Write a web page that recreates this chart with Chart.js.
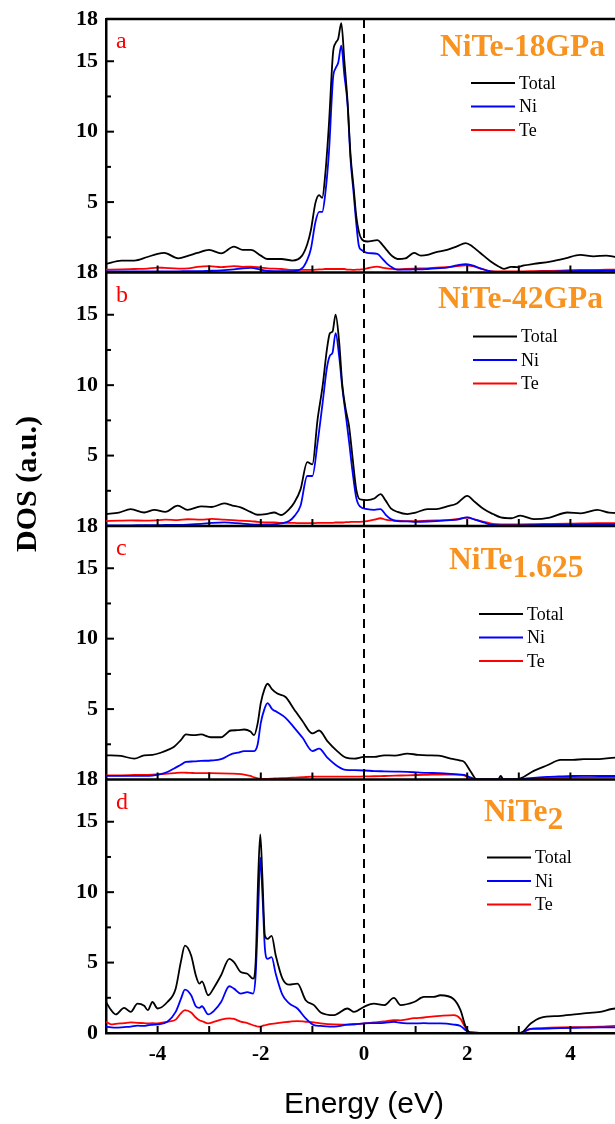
<!DOCTYPE html>
<html lang="en">
<head>
    <meta charset="UTF-8">
    <title>DOS</title>
    <style>
        html, body {
            margin: 0;
            padding: 0;
            background-color: #fff;
            overflow: hidden;
        }
        .wrap {
            position: relative;
            width: 615px;
            height: 1124px;
            overflow: hidden;
        }
    </style>
</head>
<body>
    <div class="wrap">
        <canvas id="dosChart" width="640" height="1124"></canvas>
    </div>

    <script src="https://cdn.jsdelivr.net/npm/chart.js@4.4.0/dist/chart.umd.min.js"></script>
    <script>
        // panel a : NiTe-18GPa
        const energyA = [
            -5.0, -4.7, -4.45, -4.2, -4.0, -3.87, -3.6, -3.4, -3.23, -3.0,
            -2.77, -2.52, -2.35, -2.19, -2.0, -1.87, -1.6, -1.39, -1.2, -1.1,
            -1.03, -0.94, -0.87, -0.81, -0.75, -0.68, -0.6, -0.55, -0.5, -0.44,
            -0.38, -0.32, -0.26, -0.2, -0.15, -0.1, -0.05, 0.06, 0.26, 0.35,
            0.45, 0.55, 0.65, 0.8, 0.97, 1.1, 1.23, 1.4, 1.61, 1.8,
            1.97, 2.1, 2.25, 2.45, 2.6, 2.71, 2.85, 2.97, 3.1, 3.29,
            3.61, 3.9, 4.19, 4.45, 4.7, 5.0
        ];
        const totalA = [
            0.61, 0.85, 0.85, 1.1, 1.32, 1.39, 1.01, 1.2, 1.39, 1.6,
            1.36, 1.84, 1.6, 1.6, 1.2, 0.96, 0.96, 0.85, 1.2, 2.0,
            3.0, 4.96, 5.5, 5.3, 7.0, 10.5, 15.6, 16.3, 16.6, 17.7,
            15.0, 12.2, 8.3, 6.0, 4.0, 2.9, 2.4, 2.2, 2.3, 2.0,
            1.55, 1.15, 0.96, 1.0, 1.39, 1.2, 1.25, 1.45, 1.6, 1.85,
            2.09, 1.85, 1.4, 0.8, 0.45, 0.26, 0.4, 0.38, 0.5, 0.61,
            0.78, 1.0, 1.25, 1.15, 1.2, 1.0
        ];
        const niA = [
            0.07, 0.07, 0.07, 0.08, 0.08, 0.08, 0.08, 0.1, 0.1, 0.12,
            0.15, 0.22, 0.3, 0.33, 0.2, 0.12, 0.1, 0.1, 0.3, 0.9,
            1.67, 3.6, 4.3, 4.3, 5.6, 8.5, 13.8, 14.5, 14.9, 16.1,
            14.0, 12.0, 8.0, 5.6, 3.5, 1.9, 1.6, 1.39, 1.32, 1.0,
            0.61, 0.35, 0.2, 0.2, 0.22, 0.22, 0.25, 0.3, 0.35, 0.5,
            0.6, 0.5, 0.3, 0.08, 0.04, 0.03, 0.03, 0.03, 0.04, 0.05,
            0.06, 0.1, 0.12, 0.12, 0.13, 0.12
        ];
        const teA = [
            0.2, 0.22, 0.25, 0.28, 0.35, 0.33, 0.28, 0.3, 0.4, 0.45,
            0.38, 0.45, 0.4, 0.42, 0.35, 0.3, 0.25, 0.18, 0.18, 0.18,
            0.18, 0.2, 0.22, 0.22, 0.25, 0.25, 0.25, 0.25, 0.25, 0.25,
            0.25, 0.2, 0.2, 0.18, 0.2, 0.2, 0.22, 0.3, 0.42, 0.35,
            0.3, 0.25, 0.22, 0.25, 0.28, 0.3, 0.3, 0.35, 0.38, 0.45,
            0.5, 0.45, 0.3, 0.1, 0.08, 0.08, 0.08, 0.08, 0.08, 0.1,
            0.12, 0.15, 0.18, 0.18, 0.2, 0.2
        ];

        // panel b : NiTe-42GPa
        const energyB = [
            -5.0, -4.75, -4.52, -4.26, -4.06, -3.85, -3.61, -3.42, -3.16, -2.95,
            -2.71, -2.55, -2.39, -2.2, -2.06, -1.9, -1.74, -1.61, -1.45, -1.35,
            -1.23, -1.1, -1.0, -0.9, -0.8, -0.72, -0.66, -0.61, -0.55, -0.48,
            -0.42, -0.35, -0.29, -0.22, -0.15, -0.08, 0.06, 0.2, 0.32, 0.42,
            0.52, 0.65, 0.84, 1.0, 1.23, 1.4, 1.61, 1.8, 2.0, 2.15,
            2.32, 2.5, 2.65, 2.85, 3.03, 3.29, 3.6, 3.94, 4.2, 4.52,
            4.75, 5.0
        ];
        const totalB = [
            0.85, 0.95, 1.2, 0.96, 1.15, 1.0, 1.44, 1.15, 1.39, 1.35,
            1.6, 1.45, 1.32, 1.0, 0.8, 0.85, 0.96, 0.78, 1.2, 1.67,
            2.6, 4.54, 4.38, 7.55, 10.0, 12.5, 13.7, 13.8, 15.0, 13.0,
            10.0, 8.2, 7.1, 4.8, 2.6, 1.9, 1.84, 1.95, 2.26, 1.8,
            1.25, 1.0, 0.85, 0.95, 1.2, 1.2, 1.39, 1.6, 2.14, 1.7,
            1.2, 0.85, 0.61, 0.55, 0.73, 0.49, 0.6, 0.96, 0.9, 1.15,
            0.95, 0.9
        ];
        const niB = [
            0.05, 0.05, 0.05, 0.06, 0.06, 0.07, 0.08, 0.1, 0.15, 0.22,
            0.26, 0.22, 0.18, 0.12, 0.1, 0.1, 0.12, 0.18, 0.35, 0.7,
            1.44, 3.55, 3.55, 5.9, 8.8, 11.2, 12.1, 12.3, 13.7, 12.0,
            9.8, 7.8, 6.0, 3.8, 2.0, 1.39, 1.2, 1.15, 1.2, 0.8,
            0.49, 0.35, 0.33, 0.3, 0.32, 0.35, 0.4, 0.45, 0.61, 0.45,
            0.25, 0.07, 0.05, 0.05, 0.05, 0.06, 0.08, 0.1, 0.1, 0.12,
            0.12, 0.12
        ];
        const teB = [
            0.35, 0.38, 0.4, 0.38, 0.4, 0.45, 0.42, 0.48, 0.45, 0.5,
            0.45, 0.42, 0.38, 0.35, 0.3, 0.25, 0.25, 0.22, 0.22, 0.22,
            0.2, 0.2, 0.2, 0.22, 0.22, 0.22, 0.22, 0.22, 0.25, 0.25,
            0.25, 0.28, 0.28, 0.3, 0.3, 0.3, 0.35, 0.45, 0.55, 0.45,
            0.4, 0.38, 0.35, 0.35, 0.38, 0.4, 0.42, 0.48, 0.6, 0.45,
            0.3, 0.15, 0.12, 0.12, 0.12, 0.13, 0.15, 0.17, 0.18, 0.2,
            0.2, 0.2
        ];

        // panel c : NiTe1.625
        const energyC = [
            -5.0, -4.71, -4.45, -4.26, -4.1, -3.94, -3.8, -3.68, -3.55, -3.45,
            -3.3, -3.16, -2.97, -2.77, -2.58, -2.45, -2.32, -2.2, -2.13, -2.06,
            -2.0, -1.93, -1.87, -1.78, -1.68, -1.52, -1.35, -1.19, -1.0, -0.87,
            -0.71, -0.52, -0.35, -0.19, 0.0, 0.2, 0.39, 0.6, 0.84, 1.05,
            1.23, 1.45, 1.68, 1.85, 1.94, 2.06, 2.19, 2.4, 2.6, 2.65,
            2.7, 2.8, 2.97, 3.1, 3.29, 3.55, 3.81, 4.05, 4.26, 4.55,
            4.87, 5.0
        ];
        const totalC = [
            1.72, 1.67, 1.48, 1.72, 1.75, 1.9, 2.1, 2.33, 2.8, 3.2,
            3.15, 3.2, 3.0, 3.0, 3.48, 3.5, 3.55, 3.4, 3.15, 4.0,
            5.43, 6.4, 6.8, 6.4, 6.1, 5.86, 4.96, 4.14, 3.27, 3.48,
            2.73, 2.02, 1.55, 1.48, 1.6, 1.6, 1.72, 1.7, 1.84, 1.75,
            1.72, 1.7, 1.48, 1.35, 1.25, 0.61, 0, 0, 0, 0.26,
            0, 0, 0, 0.2, 0.61, 1.01, 1.39, 1.4, 1.44, 1.45,
            1.55, 1.55
        ];
        const niC = [
            0.26, 0.26, 0.26, 0.26, 0.28, 0.38, 0.55, 0.78, 1.05, 1.25,
            1.28, 1.32, 1.35, 1.44, 1.79, 1.9, 2.02, 2.02, 2.02, 2.5,
            4.02, 5.0, 5.43, 5.0, 4.78, 4.38, 3.67, 2.96, 2.02, 2.19,
            1.55, 0.96, 0.68, 0.66, 0.64, 0.6, 0.58, 0.56, 0.54, 0.5,
            0.47, 0.45, 0.4, 0.35, 0.33, 0.15, 0, 0, 0, 0,
            0, 0, 0, 0.05, 0.12, 0.18, 0.22, 0.25, 0.26, 0.25,
            0.25, 0.25
        ];
        const teC = [
            0.3, 0.3, 0.32, 0.33, 0.35, 0.38, 0.42, 0.45, 0.49, 0.48,
            0.46, 0.45, 0.45, 0.44, 0.42, 0.4, 0.35, 0.25, 0.15, 0.08,
            0.05, 0.05, 0.05, 0.06, 0.08, 0.1, 0.13, 0.16, 0.2, 0.2,
            0.2, 0.2, 0.2, 0.2, 0.22, 0.23, 0.25, 0.27, 0.3, 0.32,
            0.33, 0.35, 0.35, 0.35, 0.3, 0.1, 0, 0, 0, 0,
            0, 0, 0, 0.02, 0.06, 0.1, 0.12, 0.13, 0.15, 0.15,
            0.15, 0.15
        ];

        // panel d : NiTe2
        const energyD = [
            -5.0, -4.9, -4.81, -4.65, -4.52, -4.39, -4.26, -4.19, -4.1, -4.0,
            -3.81, -3.65, -3.55, -3.47, -3.35, -3.26, -3.19, -3.14, -3.02, -2.9,
            -2.77, -2.61, -2.52, -2.39, -2.26, -2.15, -2.1, -2.05, -2.01, -1.97,
            -1.92, -1.87, -1.79, -1.71, -1.58, -1.45, -1.29, -1.13, -0.97, -0.84,
            -0.58, -0.32, -0.19, 0.0, 0.19, 0.39, 0.58, 0.71, 0.97, 1.16,
            1.35, 1.48, 1.74, 1.87, 1.97, 2.05, 2.5, 3.03, 3.23, 3.42,
            3.81, 4.26, 4.58, 4.87, 5.0
        ];
        const totalD = [
            2.2, 1.62, 1.32, 1.79, 1.5, 2.09, 1.93, 1.62, 2.2, 1.74,
            2.2, 3.15, 5.04, 6.2, 5.5, 4.1, 3.5, 3.67, 2.68, 3.27,
            4.1, 5.27, 5.04, 4.33, 4.21, 3.86, 5.04, 11.15, 14.1, 11.15,
            6.9, 6.68, 6.9, 5.5, 3.86, 3.43, 3.5, 2.33, 1.98, 1.46,
            1.27, 1.74, 1.5, 1.86, 2.09, 1.98, 2.49, 1.98, 2.2, 2.56,
            2.56, 2.68, 2.4, 1.62, 0.45, 0.05, 0, 0, 0.68, 1.08,
            1.22, 1.39, 1.5, 1.74, 1.7
        ];
        const niD = [
            0.45, 0.4, 0.38, 0.42, 0.45, 0.52, 0.5, 0.55, 0.58, 0.61,
            0.8, 1.5, 2.4, 3.08, 2.68, 1.9, 1.79, 1.9, 1.32, 1.6,
            2.2, 3.32, 3.15, 2.8, 2.9, 2.8, 4.1, 8.8, 12.45, 9.98,
            5.98, 5.27, 5.39, 4.2, 2.7, 2.1, 1.74, 1.04, 0.56, 0.5,
            0.45, 0.6, 0.62, 0.68, 0.7, 0.72, 0.8, 0.72, 0.68, 0.7,
            0.68, 0.68, 0.6, 0.5, 0.2, 0.02, 0, 0, 0.3, 0.3,
            0.35, 0.38, 0.4, 0.4, 0.4
        ];
        const teD = [
            0.8, 0.61, 0.65, 0.7, 0.75, 0.72, 0.7, 0.68, 0.7, 0.68,
            0.8, 0.95, 1.4, 1.62, 1.45, 1.1, 0.9, 0.85, 0.68, 0.8,
            0.95, 1.04, 1.0, 0.8, 0.7, 0.55, 0.5, 0.45, 0.45, 0.5,
            0.55, 0.6, 0.65, 0.68, 0.75, 0.8, 0.85, 0.8, 0.75, 0.68,
            0.61, 0.6, 0.62, 0.68, 0.75, 0.82, 0.92, 0.9, 1.05, 1.1,
            1.18, 1.22, 1.27, 1.0, 0.35, 0.05, 0, 0, 0.3, 0.35,
            0.4, 0.42, 0.45, 0.5, 0.5
        ];

        const seriesNames = ['Total', 'Ni', 'Te'];
        const panelLetters = ['a', 'b', 'c', 'd'];
        const panelTitles = [['NiTe-18GPa', ''], ['NiTe-42GPa', ''], ['NiTe', '1.625'], ['NiTe', '2']];
        const yTickValues = [0, 2.5, 5, 7.5, 10, 12.5, 15, 18];
        const yTickLabels = [5, 10, 15, 18];
        const xTickLabels = [-4, -2, 0, 2, 4];

        const panelIds = ['ya', 'yb', 'yc', 'yd'];
        const panelData = [
            [energyA, totalA, niA, teA],
            [energyB, totalB, niB, teB],
            [energyC, totalC, niC, teC],
            [energyD, totalD, niD, teD]
        ];
        const lineColors = ['#000000', '#0000ff', '#ff0000'];

        // text placement inside each panel (px from panel top)
        const panelStyle = [
            { titleX: 440, titleDy: 37, legendX: 471, legendDy: 64 },
            { titleX: 438, titleDy: 35, legendX: 473, legendDy: 64 },
            { titleX: 449, titleDy: 43, legendX: 479, legendDy: 88 },
            { titleX: 484, titleDy: 41, legendX: 487, legendDy: 78 }
        ];

        const serif = '"Liberation Serif", "Times New Roman", serif';

        function toPoints(energy, values) {
            return energy.map((e, i) => ({ x: e, y: values[i] }));
        }

        const datasets = [];
        panelIds.forEach((id, p) => {
            const [energy, ...curves] = panelData[p];
            curves.forEach((values, k) => {
                datasets.push({
                    label: seriesNames[k],
                    data: toPoints(energy, values),
                    yAxisID: id,
                    borderColor: lineColors[k],
                    borderWidth: 1.8,
                    pointRadius: 0,
                    cubicInterpolationMode: 'monotone',
                    order: k
                });
            });
        });

        function makeYScale(id) {
            return {
                type: 'linear',
                position: 'left',
                stack: 'dos',
                stackWeight: 1,
                min: 0,
                max: 18,
                afterBuildTicks: scale => {
                    scale.ticks = yTickValues.map(v => ({ value: v }));
                },
                afterFit: scale => {
                    scale.width = 106;
                },
                grid: { display: true, drawOnChartArea: false, drawTicks: false },
                border: { display: true, color: '#000', width: 2.5 },
                ticks: {
                    autoSkip: false,
                    padding: 8,
                    color: '#000',
                    font: { family: serif, weight: 'bold', size: 22, lineHeight: 1 },
                    callback: value => {
                        if (yTickLabels.includes(value)) return String(value);
                        if (value === 0 && id === 'yd') return '0';
                        return '';
                    }
                }
            };
        }

        // dashed Fermi line, panel frames and inward tick marks
        const frameLines = {
            id: 'frameLines',
            afterDatasetsDraw(chart) {
                const { ctx, chartArea, scales } = chart;
                const xs = scales.x;
                ctx.save();
                ctx.strokeStyle = '#000';

                ctx.lineWidth = 2;
                ctx.setLineDash([9, 6]);
                const x0 = xs.getPixelForValue(0);
                ctx.beginPath();
                ctx.moveTo(x0, chartArea.top);
                ctx.lineTo(x0, chartArea.bottom);
                ctx.stroke();
                ctx.setLineDash([]);

                panelIds.forEach(id => {
                    const ys = scales[id];
                    ctx.lineWidth = 2.5;
                    ctx.beginPath();
                    ctx.moveTo(chartArea.left, ys.top);
                    ctx.lineTo(chartArea.right, ys.top);
                    ctx.stroke();

                    ctx.lineWidth = 2;
                    ys.ticks.forEach(t => {
                        if (t.value <= 0 || t.value >= 18) return;
                        const len = t.value % 5 === 0 ? 8 : 5;
                        const py = ys.getPixelForValue(t.value);
                        ctx.beginPath();
                        ctx.moveTo(chartArea.left, py);
                        ctx.lineTo(chartArea.left + len, py);
                        ctx.stroke();
                    });

                    const base = ys.getPixelForValue(0);
                    xs.ticks.forEach(t => {
                        if (t.value <= xs.min || t.value >= xs.max) return;
                        const px = xs.getPixelForValue(t.value);
                        ctx.beginPath();
                        ctx.moveTo(px, base);
                        ctx.lineTo(px, base - 7);
                        ctx.stroke();
                    });
                });
                ctx.restore();
            }
        };

        // panel letters, titles, legends and the DOS axis title
        const panelText = {
            id: 'panelText',
            afterDraw(chart) {
                const { ctx, scales } = chart;
                ctx.save();
                panelIds.forEach((id, p) => {
                    const top = scales[id].top;
                    const st = panelStyle[p];

                    ctx.fillStyle = '#ff0000';
                    ctx.font = `24px ${serif}`;
                    ctx.textAlign = 'left';
                    ctx.textBaseline = 'alphabetic';
                    ctx.fillText(panelLetters[p], 116, top + 29);

                    const [main, sub] = panelTitles[p];
                    ctx.fillStyle = '#f7931e';
                    ctx.font = `bold 31.5px ${serif}`;
                    ctx.fillText(main, st.titleX, top + st.titleDy);
                    if (sub) {
                        const w = ctx.measureText(main).width;
                        ctx.fillText(sub, st.titleX + w, top + st.titleDy + 8);
                    }

                    ctx.font = `18px ${serif}`;
                    ctx.textBaseline = 'middle';
                    seriesNames.forEach((name, k) => {
                        const ly = top + st.legendDy + k * 23.5;
                        ctx.strokeStyle = lineColors[k];
                        ctx.lineWidth = 2;
                        ctx.beginPath();
                        ctx.moveTo(st.legendX, ly);
                        ctx.lineTo(st.legendX + 44, ly);
                        ctx.stroke();
                        ctx.fillStyle = '#000';
                        ctx.fillText(name, st.legendX + 48, ly + 1);
                    });
                });

                ctx.translate(28, 484);
                ctx.rotate(-Math.PI / 2);
                ctx.fillStyle = '#000';
                ctx.font = `bold 30px ${serif}`;
                ctx.textAlign = 'center';
                ctx.textBaseline = 'middle';
                ctx.fillText('DOS (a.u.)', 0, 0);
                ctx.restore();
            }
        };

        const scales = {
            x: {
                type: 'linear',
                position: 'bottom',
                min: -5,
                max: 5,
                afterFit: scale => {
                    scale.height = 91;
                },
                grid: { display: true, drawOnChartArea: false, drawTicks: false },
                border: { display: true, color: '#000', width: 2.5 },
                ticks: {
                    stepSize: 1,
                    autoSkip: false,
                    maxRotation: 0,
                    padding: 9,
                    color: '#000',
                    font: { family: serif, weight: 'bold', size: 21 },
                    callback: value => (xTickLabels.includes(value) ? String(value) : '')
                },
                title: {
                    display: true,
                    text: 'Energy (eV)',
                    color: '#000',
                    font: { family: '"Liberation Sans", Arial, sans-serif', size: 30 },
                    padding: { top: 0, bottom: 1 }
                }
            }
        };
        // last defined left axis is stacked on top
        [...panelIds].reverse().forEach(id => {
            scales[id] = makeYScale(id);
        });

        new Chart(document.getElementById('dosChart').getContext('2d'), {
            type: 'line',
            data: { datasets },
            options: {
                responsive: false,
                animation: false,
                devicePixelRatio: 1,
                layout: { padding: { top: 12, right: 18, bottom: 0, left: 0 } },
                plugins: {
                    legend: { display: false },
                    tooltip: { enabled: false }
                },
                scales
            },
            plugins: [frameLines, panelText]
        });
    </script>
</body>
</html>
